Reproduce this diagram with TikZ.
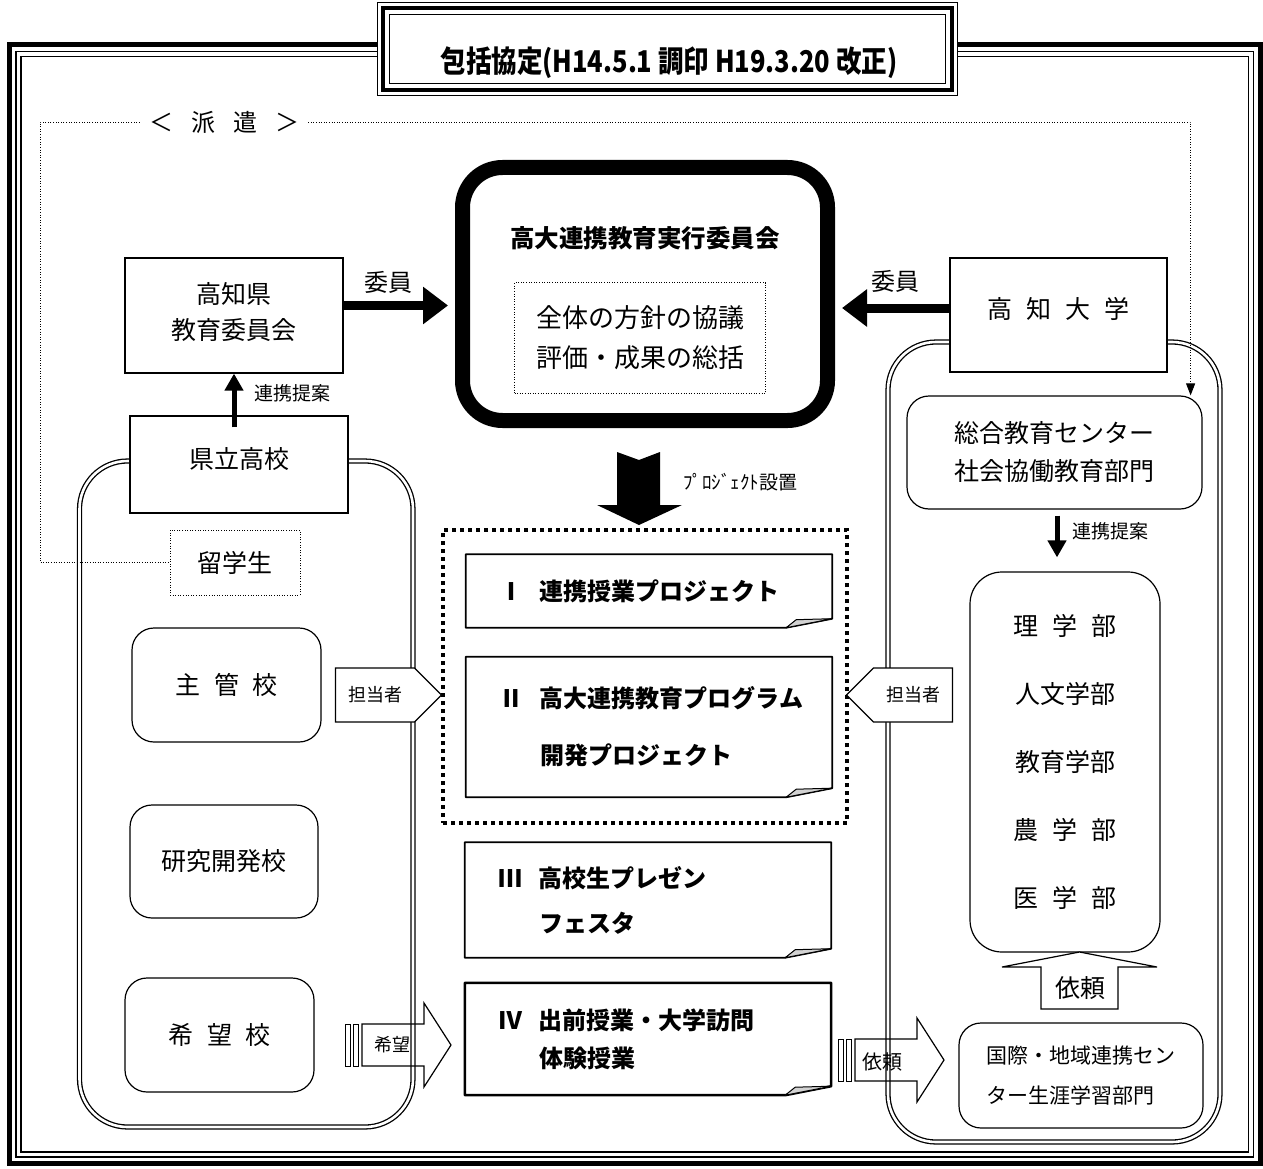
\documentclass[tikz,border=0pt]{standalone}
\usepackage{fontspec}
\setmainfont{Noto Sans CJK JP}
\usetikzlibrary{arrows.meta,shapes.symbols}
\newcommand\wsp{\hspace{0.55em}}
\newcommand\rnum[1]{\hspace*{10pt}\makebox[41pt][l]{#1}}

\begin{document}
\begin{tikzpicture}[x=1pt,y=-1pt,every node/.style={inner sep=0pt},
  big/.style={font=\fontsize{25}{36}\selectfont},
  mid/.style={font=\fontsize{21}{40}\selectfont},
  sml/.style={font=\fontsize{18}{20}\selectfont},
  sq/.style={draw,line width=1.2pt,fill=white,align=center,big},
  rbox/.style={sq,rounded corners=22pt},
  proj/.style={fill=white,text width=320pt,inner xsep=23pt,align=left,minimum width=366pt,font=\bfseries\fontsize{24}{30}\selectfont},
  fold/.style={draw,line width=1.8pt,line join=round},
  dots/.style={line width=0.9pt,dash pattern=on 1pt off 1.6pt},
  fatarrow/.style={line width=9pt,-{Triangle[length=25pt,width=36pt]}},
  slimarrow/.style={line width=5pt,-{Triangle[length=17pt,width=18pt]}},
  tag/.style={draw,line width=1.2pt,fill=white,signal,signal pointer angle=90,sml,minimum height=54pt,minimum width=106pt},
  block/.style={draw,line width=1.2pt,line join=miter},
  lane/.style={draw,line width=1.3pt,double distance=2.6pt,rounded corners=48pt}]
\useasboundingbox (0,0) rectangle (1263,1169);
\foreach \d/\w in {0/5pt,6.5/1.3pt,11.5/1.3pt}
  \draw[line width=\w] (9.5+\d,45+\d) rectangle (1260-\d,1163.5-\d);
\node[fill=white,minimum width=579pt,minimum height=92pt] (title) at (667.5,49) {};
\foreach \d/\w in {0/1.3pt,5/4pt,12/1.3pt}
  \draw[line width=\w] ([shift={(\d,\d)}]title.north west) rectangle ([shift={(-\d,-\d)}]title.south east);
\node[font=\bfseries\fontsize{30}{32}\selectfont] (titletext) at (669,63) {\scalebox{0.85}[1]{包括協定(H14.5.1 調印 H19.3.20 改正)}};
\draw[lane] (79.5,461) rectangle (413,1127);
\draw[lane] (888,342) rectangle (1220,1142);
\node[sq,minimum width=218pt,minimum height=115pt] (kyoiku) at (234,315.5) {高知県\\教育委員会\\[-26pt]};
\node[sq,minimum width=218pt,minimum height=97pt] (kenritsu) at (239,464.5) {県立高校\\[-22pt]};
\node[draw,dots,align=center,big,minimum width=130pt,minimum height=65pt] (ryu) at (235,562.5) {留学生};
\node[rbox,minimum width=189pt,minimum height=114pt] (shukan) at (226.5,685) {主\wsp{}管\wsp{}校};
\node[rbox,minimum width=188pt,minimum height=113pt] (kenkyu) at (224,861.5) {研究開発校};
\node[rbox,minimum width=189pt,minimum height=114pt] (kibo) at (219.5,1035) {希\wsp{}望\wsp{}校};
\node[sq,minimum width=217pt,minimum height=114pt] (univ) at (1058.5,315) {高\wsp{}知\wsp{}大\wsp{}学\\[-22pt]};
\node[rbox,minimum width=295pt,minimum height=113pt,font=\fontsize{25}{38}\selectfont] (sogo) at (1054.5,452.5) {総合教育センター\\社会協働教育部門};
\node[rbox,rounded corners=32pt,minimum width=190pt,minimum height=380pt,font=\fontsize{25}{68}\selectfont] (fac) at (1065,762) {理\wsp{}学\wsp{}部\\人文学部\\教育学部\\農\wsp{}学\wsp{}部\\医\wsp{}学\wsp{}部};
\node[rbox,align=left,mid,minimum width=244pt,minimum height=105pt] (kokusai) at (1081,1075.5) {国際・地域連携セン\\ター生涯学習部門\hspace*{21pt}};
\node[draw,line width=15pt,rounded corners=40pt,minimum width=365pt,minimum height=253pt] (comm) at (645,294) {};
\node[font=\bfseries\fontsize{24.5}{28}\selectfont] (commtitle) at (645,238) {高大連携教育実行委員会};
\node[draw,dots,align=center,font=\fontsize{26}{40}\selectfont,minimum width=251pt,minimum height=111pt] (policy) at (640,338) {全体の方針の協議\\評価・成果の総括};
\node[draw,line width=4pt,dash pattern=on 4pt off 4pt,minimum width=404pt,minimum height=293pt] (grp) at (645,676.5) {};
\node[proj,minimum height=73pt] (p1) at (649,591) {\rnum{Ⅰ}連携授業プロジェクト};
\node[proj,minimum height=140pt] (p2) at (649,727) {\rnum{Ⅱ}高大連携教育プログラム\\[27pt]\rnum{}開発プロジェクト};
\node[proj,minimum height=115pt] (p3) at (648,900) {\rnum{Ⅲ}高校生プレゼン\\[15pt]\rnum{}フェスタ};
\node[proj,minimum height=112pt] (p4) at (648,1039) {\rnum{Ⅳ}出前授業・大学訪問\\[8pt]\rnum{}体験授業};
\foreach \n/\w in {p1/1.8pt,p2/1.8pt,p3/1.8pt,p4/2.5pt} {
  \draw[fold,line width=\w] (\n.north west) -- (\n.north east) -- ([yshift=9pt]\n.south east) -- ([xshift=-46pt]\n.south east) -- (\n.south west) -- cycle;
  \draw[fold,line width=1pt,fill=gray!35] ([xshift=-46pt]\n.south east) -- ([xshift=-36pt,yshift=8pt]\n.south east) -- ([yshift=9pt]\n.south east) -- cycle;
}
\node[big,inner xsep=9pt,font=\fontsize{24}{28}\selectfont] (haken) at (224,122) {＜\hspace{18pt}派\hspace{18pt}遣\hspace{18pt}＞};
\coordinate (bendL) at (40,122);
\draw[dots] (haken.west) -- (bendL) |- (ryu.west);
\draw[dots,-{Triangle[length=12pt,width=9pt]}] (haken.east) -| ([xshift=-12pt]sogo.north east);
\draw[fatarrow,shorten >=7pt] ([yshift=10pt]kyoiku.east) -- ([yshift=10pt]kyoiku.east -| comm.west);
\draw[fatarrow,shorten >=7pt] ([yshift=7pt]univ.west) -- ([yshift=7pt]univ.west -| comm.east);
\node[big,font=\fontsize{24}{28}\selectfont] (iin1) at (388,282) {委員};
\node[big,font=\fontsize{24}{28}\selectfont] (iin2) at (895,281) {委員};
\coordinate (kenN) at ([yshift=-12pt]kenritsu.north);
\draw[slimarrow] (kenN -| kyoiku.south) -- (kyoiku.south);
\node[sml,font=\fontsize{19}{20}\selectfont] (teian1) at (292,393) {連携提案};
\coordinate (sogoS) at ([xshift=2.5pt]sogo.south);
\draw[slimarrow,shorten <=6pt,shorten >=14pt] (sogoS) -- (sogoS |- fac.north);
\node[sml,font=\fontsize{19}{20}\selectfont] (teian2) at (1110,531) {連携提案};
\fill (617,452) -- (639,460) -- (660,452) -- (660,505) -- (682,505) -- (639,525) -- (597,505) -- (617,505) -- cycle;
\node[font=\fontsize{19}{20}\selectfont] (setchi) at (740,482) {ﾌﾟﾛｼﾞｪｸﾄ設置};
\node[tag,signal to=east] (tagL) at (375,695) {担当者};
\node[tag,signal to=west] (tagR) at (913,695) {担当者};
\foreach \x/\y in {345/1045,838/1060} {
  \foreach \s in {0,8}
    \draw[block,line width=1pt] (\x+\s,\y-21) rectangle (\x+\s+5,\y+21);
  \draw[block] (\x+17,\y-21) -- (\x+79,\y-21) -- (\x+79,\y-42) -- (\x+106,\y) -- (\x+79,\y+42) -- (\x+79,\y+21) -- (\x+17,\y+21) -- cycle;
}
\node[sml] (kibou) at (392,1045) {希望};
\node[font=\fontsize{20}{22}\selectfont] (irai1) at (882,1062) {依頼};
\draw[block,fill=white] (1041,1009) -- (1041,967) -- (1002,967) -- (1079.5,952) -- (1157,967) -- (1118,967) -- (1118,1009) -- cycle;
\node[big] (irai2) at (1080,988) {依頼};
\end{tikzpicture}
\end{document}
